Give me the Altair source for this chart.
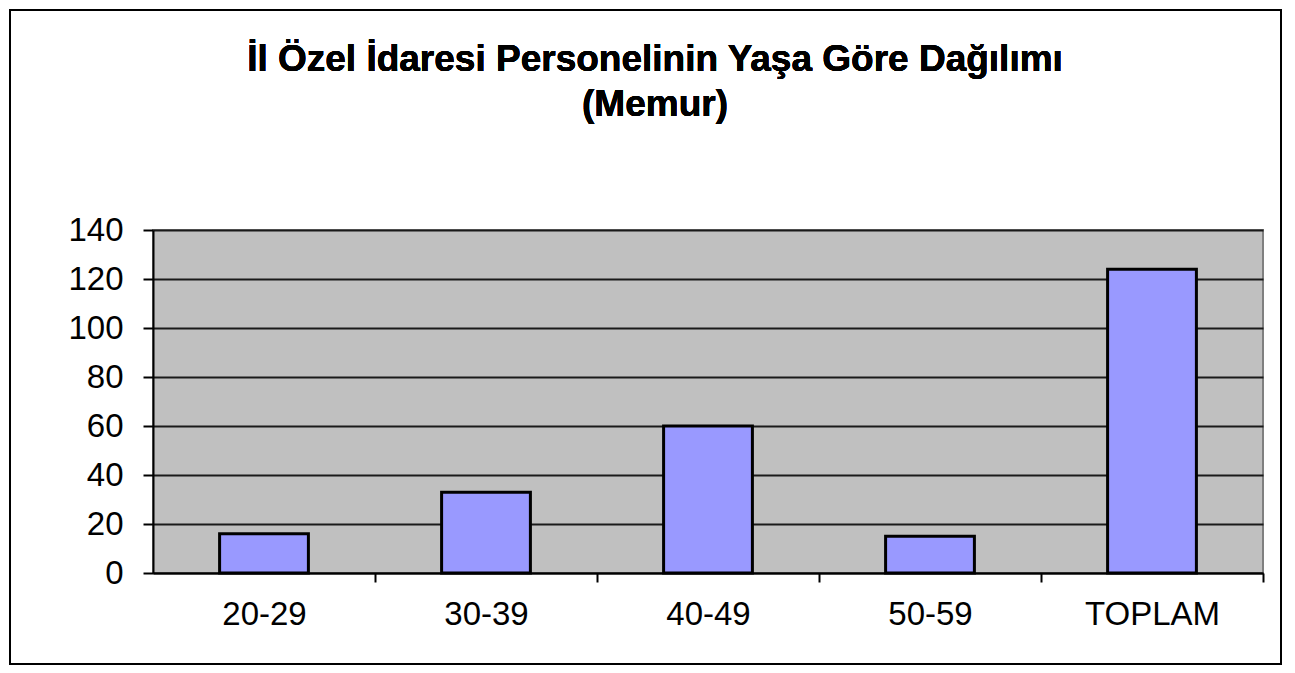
import altair as alt
import pandas as pd

categories = ["20-29", "30-39", "40-49", "50-59", "TOPLAM"]
values = [16, 33, 60, 15, 124]
y_ticks = [0, 20, 40, 60, 80, 100, 120, 140]
title_line1 = "İl Özel İdaresi Personelinin Yaşa Göre Dağılımı"
title_line2 = "(Memur)"

df = pd.DataFrame({"cat": categories, "val": values})

FONT = "Liberation Sans"

bars = alt.Chart(df).mark_bar(
    fill="#9999FF", stroke="#000000", strokeWidth=3
).encode(
    x=alt.X("cat:N", sort=categories,
            scale=alt.Scale(paddingInner=0.6, paddingOuter=0.3),
            axis=alt.Axis(title=None, labelAngle=0, labelFont=FONT, labelFontSize=33,
                          labelColor="#000000", domainColor="#000000", domainWidth=2,
                          tickColor="#000000", tickWidth=2, tickSize=9,
                          tickOffset=111, labelOffset=-111,
                          labelPadding=16, grid=False)),
    y=alt.Y("val:Q", scale=alt.Scale(domain=[0, 140], nice=False),
            axis=alt.Axis(title=None, values=y_ticks, labelFont=FONT, labelFontSize=33,
                          labelColor="#000000", domainColor="#000000", domainWidth=2,
                          tickColor="#000000", tickWidth=2, tickSize=10, labelPadding=20,
                          grid=True, gridColor="#1a1a1a", gridWidth=2)),
)

frame = alt.Chart(df).mark_rect(
    fill=None, stroke="#000000", strokeWidth=2, filled=False
).encode(
    x=alt.value(-143), x2=alt.value(1128),
    y=alt.value(-220), y2=alt.value(434),
)

t1 = alt.Chart(df).mark_text(
    text=title_line1, font=FONT, fontSize=37, fontWeight="bold", color="#000000",
    align="center", baseline="alphabetic"
).encode(x=alt.value(502), y=alt.value(-159))

t2 = alt.Chart(df).mark_text(
    text=title_line2, font=FONT, fontSize=37, fontWeight="bold", color="#000000",
    align="center", baseline="alphabetic"
).encode(x=alt.value(502), y=alt.value(-114))

chart = alt.layer(bars, frame, t1, t2).properties(
    width=1110,
    height=343,
    autosize=alt.AutoSizeParams(type="none"),
    padding={"left": 145, "top": 222, "right": 20, "bottom": 100},
).configure(
    background="#FFFFFF"
).configure_view(
    fill="#C0C0C0", stroke="#808080", strokeWidth=2
)

chart.save("out.html", embed_options={"renderer": "svg", "actions": False})
